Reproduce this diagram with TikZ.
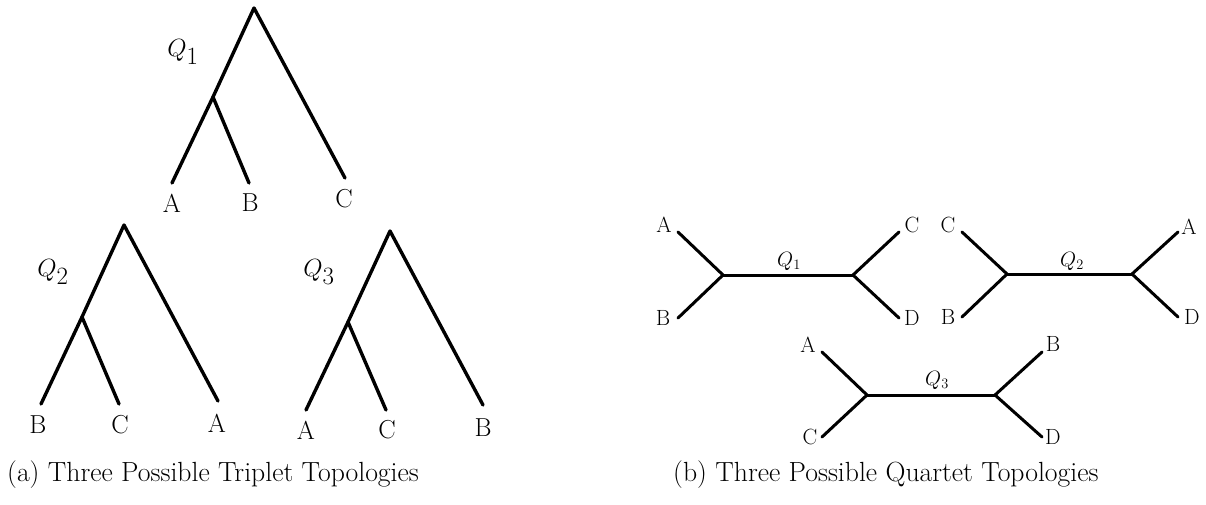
\documentclass[tikz,border=0pt]{standalone}
\begin{document}
\begin{tikzpicture}[x=1pt,y=-1pt,
  tree/.style={line width=3.4pt,line cap=round,line join=round},
  qtree/.style={line width=3pt,line cap=round,line join=round},
  leaf/.style={inner sep=0pt,font=\fontsize{26}{30}\selectfont},
  qleaf/.style={inner sep=0pt,font=\fontsize{22}{26}\selectfont},
  bigq/.style={inner sep=0pt,font=\fontsize{33}{38}\selectfont},
  smallq/.style={inner sep=0pt,font=\fontsize{21}{25}\selectfont},
  captext/.style={inner sep=0pt,font=\fontsize{27.7}{32}\selectfont}]
\useasboundingbox (0,0) rectangle (1206,504);
% ---------- Triplet Q1 ----------
\coordinate (t1r) at (254,8);
\coordinate (t1i) at (213,97);
\coordinate (t1a) at (172,183);
\coordinate (t1b) at (249,183);
\coordinate (t1c) at (345,178);
\draw[tree] (t1a) -- (t1i) -- (t1r) -- (t1c);
\draw[tree] (t1i) -- (t1b);
\node[leaf] (t1A) at (172,203) {A};
\node[leaf] (t1B) at (250,203) {B};
\node[leaf] (t1C) at (344,199) {C};
\node[bigq] (t1Q) at (183,52) {$Q_1$};
% ---------- Triplet Q2 ----------
\coordinate (t2r) at (124,225);
\coordinate (t2i) at (82,317);
\coordinate (t2b) at (41,404);
\coordinate (t2c) at (119,404);
\coordinate (t2a) at (218,401);
\draw[tree] (t2b) -- (t2i) -- (t2r) -- (t2a);
\draw[tree] (t2i) -- (t2c);
\node[leaf] (t2B) at (38,425) {B};
\node[leaf] (t2C) at (120,425) {C};
\node[leaf] (t2A) at (217,423) {A};
\node[bigq] (t2Q) at (53,272) {$Q_2$};
% ---------- Triplet Q3 ----------
\coordinate (t3r) at (390,231);
\coordinate (t3i) at (348,322);
\coordinate (t3a) at (306,410);
\coordinate (t3c) at (386,410);
\coordinate (t3b) at (483,405);
\draw[tree] (t3a) -- (t3i) -- (t3r) -- (t3b);
\draw[tree] (t3i) -- (t3c);
\node[leaf] (t3A) at (306,430) {A};
\node[leaf] (t3C) at (387,430) {C};
\node[leaf] (t3B) at (483,428) {B};
\node[bigq] (t3Q) at (319,272) {$Q_3$};
% ---------- Quartet Q1 ----------
\coordinate (q1l) at (723,275);
\coordinate (q1r) at (853,275);
\coordinate (q1a) at (678,232);
\coordinate (q1b) at (678,318);
\coordinate (q1c) at (899,232);
\coordinate (q1d) at (899,318);
\draw[qtree] (q1a) -- (q1l) -- (q1b);
\draw[qtree] (q1l) -- (q1r);
\draw[qtree] (q1c) -- (q1r) -- (q1d);
\node[qleaf] (q1A) at (664,225) {A};
\node[qleaf] (q1B) at (663,318) {B};
\node[qleaf] (q1C) at (912,225) {C};
\node[qleaf] (q1D) at (912,318) {D};
\node[smallq] (q1Q) at (789,261) {$Q_1$};
% ---------- Quartet Q2 ----------
\coordinate (q2l) at (1007,274);
\coordinate (q2r) at (1132,274);
\coordinate (q2c) at (962,232);
\coordinate (q2b) at (962,317);
\coordinate (q2a) at (1178,232);
\coordinate (q2d) at (1178,317);
\draw[qtree] (q2c) -- (q2l) -- (q2b);
\draw[qtree] (q2l) -- (q2r);
\draw[qtree] (q2a) -- (q2r) -- (q2d);
\node[qleaf] (q2C) at (948,225) {C};
\node[qleaf] (q2B) at (948,317) {B};
\node[qleaf] (q2A) at (1189,227) {A};
\node[qleaf] (q2D) at (1192,317) {D};
\node[smallq] (q2Q) at (1072,261) {$Q_2$};
% ---------- Quartet Q3 ----------
\coordinate (q3l) at (867,395);
\coordinate (q3r) at (995,395);
\coordinate (q3a) at (822,352);
\coordinate (q3c) at (822,437);
\coordinate (q3b) at (1042,352);
\coordinate (q3d) at (1042,437);
\draw[qtree] (q3a) -- (q3l) -- (q3c);
\draw[qtree] (q3l) -- (q3r);
\draw[qtree] (q3b) -- (q3r) -- (q3d);
\node[qleaf] (q3A) at (808,345) {A};
\node[qleaf] (q3C) at (810,437) {C};
\node[qleaf] (q3B) at (1053,344) {B};
\node[qleaf] (q3D) at (1053,437) {D};
\node[smallq] (q3Q) at (937,380) {$Q_3$};
% ---------- Captions ----------
\node[captext,anchor=base west] (capa) at (7,481) {(a) Three Possible Triplet Topologies};
\node[captext,anchor=base west] (capb) at (673,481) {(b) Three Possible Quartet Topologies};
\end{tikzpicture}
\end{document}
